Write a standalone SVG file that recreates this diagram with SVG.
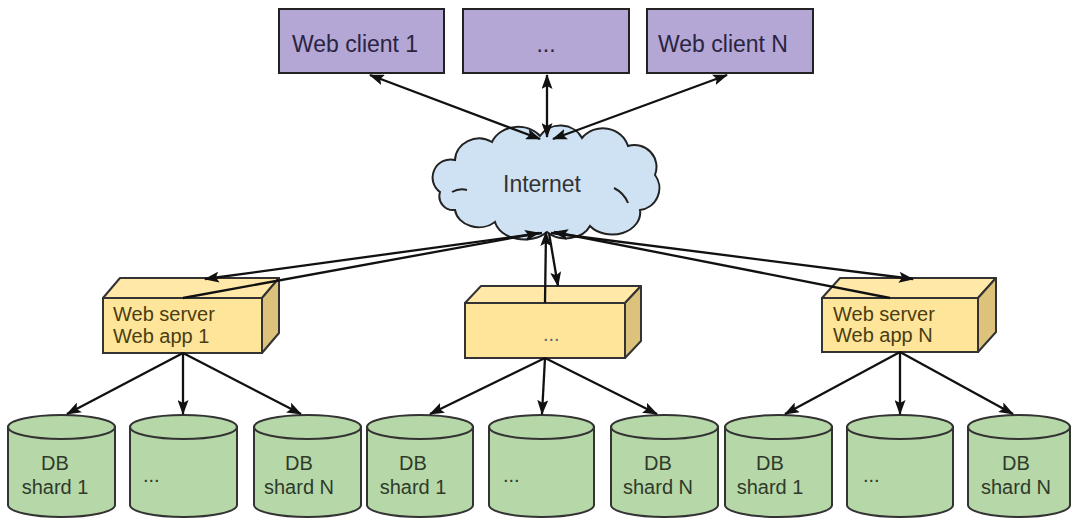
<svg xmlns="http://www.w3.org/2000/svg" width="1073" height="519" viewBox="0 0 1073 519">
<style>
text{font-family:"Liberation Sans",Arial,sans-serif;fill:#2b2b2b}
.client rect{fill:#b4a7d6;stroke:#222;stroke-width:2}
.client text{font-size:23px;fill:#2a2440}
.cloud path{fill:#cfe2f3;stroke:#222;stroke-width:2}
.srv .front{fill:#ffe599;stroke:#333;stroke-width:2}
.srv .top{fill:#ffe8a8;stroke:#333;stroke-width:2;stroke-linejoin:round}
.srv .side{fill:#dcc27a;stroke:#333;stroke-width:2;stroke-linejoin:round}
.srv text{font-size:20px;fill:#4a3d12}
.db path,.db ellipse{fill:#b6d7a8;stroke:#333;stroke-width:2}
.db text{font-size:20px;fill:#2f3a2a}
.conn line{stroke:#111;stroke-width:2.3}
.conn .a{marker-end:url(#ah)}
.conn .b{marker-start:url(#ah);marker-end:url(#ah)}
</style>
<defs>
<marker id="ah" markerUnits="userSpaceOnUse" markerWidth="15" markerHeight="11" refX="14" refY="5.5" orient="auto-start-reverse">
<path d="M0,0 L15,5.5 L0,11 L3,5.5 z" fill="#111"/>
</marker>
</defs>
<rect width="1073" height="519" fill="#fff"/>

<g id="client1" class="client"><rect x="279" y="9" width="165" height="64"/><text x="292" y="52">Web client 1</text></g>
<g id="client2" class="client"><rect x="463" y="9" width="166" height="64"/><text x="546" y="52" text-anchor="middle">...</text></g>
<g id="clientN" class="client"><rect x="647" y="9" width="166" height="64"/><text x="658" y="52">Web client N</text></g>

<g id="internet" class="cloud">
<path d="M440,192 A18,18 0 0,1 455,160 A24,22 0 0,1 492,142 A28,24 0 0,1 540,136 A24,22 0 0,1 582,138 A26,24 0 0,1 628,146 A22,22 0 0,1 655,175 A22,22 0 0,1 640,210 A28,22 0 0,1 590,226 A26,20 0 0,1 547,232 A30,22 0 0,1 495,222 A24,20 0 0,1 455,210 A14,14 0 0,1 440,192 Z"/>
<path d="M452,192 Q459,188 467,190" fill="none"/>
<path d="M614,188 Q624,193 628,203" fill="none"/>
<text x="503" y="192" style="font-size:23px;fill:#333">Internet</text>
</g>

<g id="server1" class="srv">
<polygon class="top" points="103,298 120,278 279,278 262,298"/>
<polygon class="side" points="262,298 279,278 279,333 262,353"/>
<rect class="front" x="103" y="298" width="159" height="55"/>
<text x="113" y="321">Web server</text><text x="113" y="343">Web app 1</text>
</g>
<g id="server2" class="srv">
<polygon class="top" points="465,303 481,286 641,286 625,303"/>
<polygon class="side" points="625,303 641,286 641,341 625,358"/>
<rect class="front" x="465" y="303" width="160" height="55"/>
<text x="543" y="341" style="fill:#666">...</text>
</g>
<g id="serverN" class="srv">
<polygon class="top" points="822,298 840,278 996,278 978,298"/>
<polygon class="side" points="978,298 996,278 996,332 978,352"/>
<rect class="front" x="822" y="298" width="156" height="54"/>
<text x="833" y="321">Web server</text><text x="833" y="342">Web app N</text>
</g>

<g id="db1" class="db"><path d="M8,427 L8,505 A53.5,12 0 0,0 115,505 L115,427 Z"/><ellipse cx="61.5" cy="427" rx="53.5" ry="12"/><text x="55" y="470" text-anchor="middle">DB</text><text x="55" y="494" text-anchor="middle">shard 1</text></g>
<g id="db2" class="db"><path d="M130,427 L130,505 A53.5,12 0 0,0 237,505 L237,427 Z"/><ellipse cx="183.5" cy="427" rx="53.5" ry="12"/><text x="143" y="482">...</text></g>
<g id="db3" class="db"><path d="M254,427 L254,505 A53.5,12 0 0,0 361,505 L361,427 Z"/><ellipse cx="307.5" cy="427" rx="53.5" ry="12"/><text x="299" y="470" text-anchor="middle">DB</text><text x="299" y="494" text-anchor="middle">shard N</text></g>
<g id="db4" class="db"><path d="M367,427 L367,505 A53,12 0 0,0 473,505 L473,427 Z"/><ellipse cx="420" cy="427" rx="53" ry="12"/><text x="413" y="470" text-anchor="middle">DB</text><text x="413" y="494" text-anchor="middle">shard 1</text></g>
<g id="db5" class="db"><path d="M489,427 L489,505 A52.5,12 0 0,0 594,505 L594,427 Z"/><ellipse cx="541.5" cy="427" rx="52.5" ry="12"/><text x="503" y="482">...</text></g>
<g id="db6" class="db"><path d="M611,427 L611,505 A53.5,12 0 0,0 718,505 L718,427 Z"/><ellipse cx="664.5" cy="427" rx="53.5" ry="12"/><text x="658" y="470" text-anchor="middle">DB</text><text x="658" y="494" text-anchor="middle">shard N</text></g>
<g id="db7" class="db"><path d="M725,427 L725,505 A53.5,12 0 0,0 832,505 L832,427 Z"/><ellipse cx="778.5" cy="427" rx="53.5" ry="12"/><text x="770" y="470" text-anchor="middle">DB</text><text x="770" y="494" text-anchor="middle">shard 1</text></g>
<g id="db8" class="db"><path d="M847,427 L847,505 A53,12 0 0,0 953,505 L953,427 Z"/><ellipse cx="900" cy="427" rx="53" ry="12"/><text x="863" y="482">...</text></g>
<g id="db9" class="db"><path d="M968,427 L968,505 A51,12 0 0,0 1070,505 L1070,427 Z"/><ellipse cx="1019" cy="427" rx="51" ry="12"/><text x="1016" y="470" text-anchor="middle">DB</text><text x="1016" y="494" text-anchor="middle">shard N</text></g>

<g id="connectors" class="conn">
<line class="b" x1="540" y1="139" x2="370" y2="75"/>
<line class="b" x1="547" y1="137" x2="547" y2="75"/>
<line class="b" x1="553" y1="139" x2="727" y2="75"/>
<line class="a" x1="183" y1="298" x2="539" y2="233"/>
<line class="a" x1="542" y1="233" x2="205" y2="279"/>
<line class="a" x1="545" y1="303" x2="546" y2="232"/>
<line class="a" x1="549" y1="233" x2="558" y2="286"/>
<line class="a" x1="890" y1="298" x2="554" y2="232"/>
<line class="a" x1="551" y1="233" x2="913" y2="279"/>
<line class="a" x1="183" y1="353" x2="67" y2="414"/>
<line class="a" x1="183" y1="353" x2="183" y2="414"/>
<line class="a" x1="183" y1="353" x2="301" y2="414"/>
<line class="a" x1="545" y1="358" x2="430" y2="414"/>
<line class="a" x1="545" y1="358" x2="542" y2="414"/>
<line class="a" x1="545" y1="358" x2="657" y2="414"/>
<line class="a" x1="900" y1="352" x2="785" y2="414"/>
<line class="a" x1="900" y1="352" x2="900" y2="414"/>
<line class="a" x1="900" y1="352" x2="1013" y2="414"/>
</g>
</svg>
